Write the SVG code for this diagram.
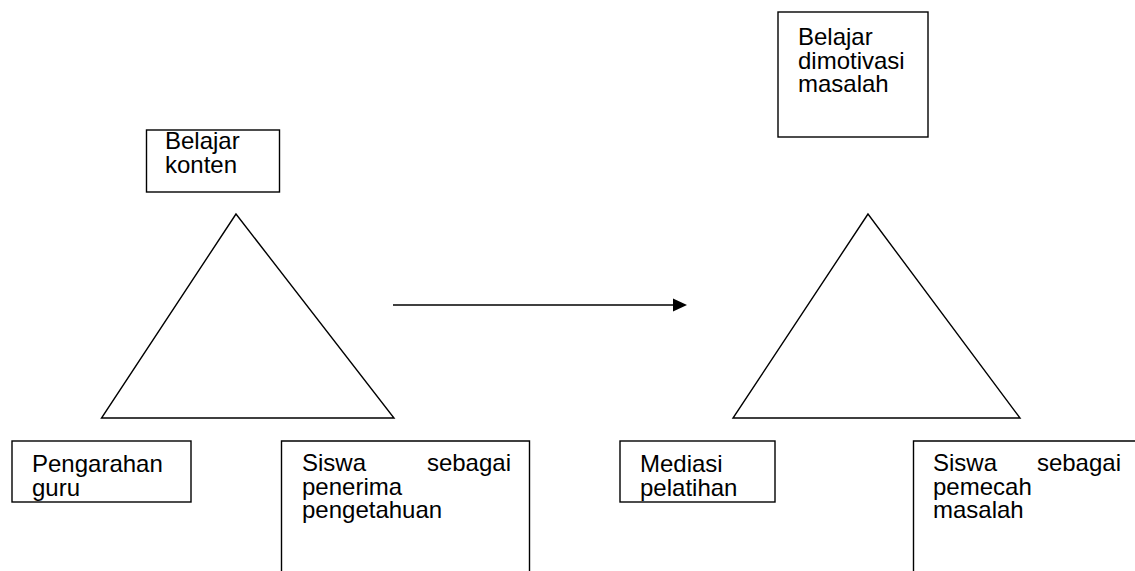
<svg xmlns="http://www.w3.org/2000/svg" width="1135" height="571" viewBox="0 0 1135 571">
<style>
.b{fill:none;stroke:#000;stroke-width:1.4}
.t{font-family:"Liberation Sans",Arial,sans-serif;font-size:24px;fill:#000}
</style>
<rect width="1135" height="571" fill="#fff"/>
<g id="belajar-konten">
<rect class="b" x="146.5" y="130" width="133" height="62"/>
<text class="t" x="165" y="149">Belajar</text>
<text class="t" x="165" y="172.5">konten</text>
</g>
<g id="triangle-left"><polygon class="b" points="236,214 101.5,418 394,418"/></g>
<g id="belajar-dimotivasi">
<rect class="b" x="778" y="12" width="150" height="125"/>
<text class="t" x="798" y="45">Belajar</text>
<text class="t" x="798" y="68.5">dimotivasi</text>
<text class="t" x="798" y="92">masalah</text>
</g>
<g id="triangle-right"><polygon class="b" points="868,214 733,418 1020,418"/></g>
<g id="pengarahan">
<rect class="b" x="12" y="441" width="179" height="61"/>
<text class="t" x="32" y="472">Pengarahan</text>
<text class="t" x="32" y="495.5">guru</text>
</g>
<g id="siswa-penerima">
<path class="b" d="M281.5,575 V441 H529.5 V575"/>
<text class="t" x="302" y="471">Siswa</text>
<text class="t" x="511" y="471" text-anchor="end">sebagai</text>
<text class="t" x="302" y="494.5">penerima</text>
<text class="t" x="302" y="518">pengetahuan</text>
</g>
<g id="mediasi">
<rect class="b" x="620" y="441" width="155" height="61"/>
<text class="t" x="640" y="472">Mediasi</text>
<text class="t" x="640" y="495.5">pelatihan</text>
</g>
<g id="siswa-pemecah">
<path class="b" d="M913.5,575 V441 H1140"/>
<text class="t" x="933" y="471">Siswa</text>
<text class="t" x="1121" y="471" text-anchor="end">sebagai</text>
<text class="t" x="933" y="494.5">pemecah</text>
<text class="t" x="933" y="518">masalah</text>
</g>
<g id="connectors">
<line class="b" x1="393" y1="305" x2="675" y2="305"/>
<polygon points="673,298.5 687,305 673,311.5" fill="#000"/>
</g>
</svg>
